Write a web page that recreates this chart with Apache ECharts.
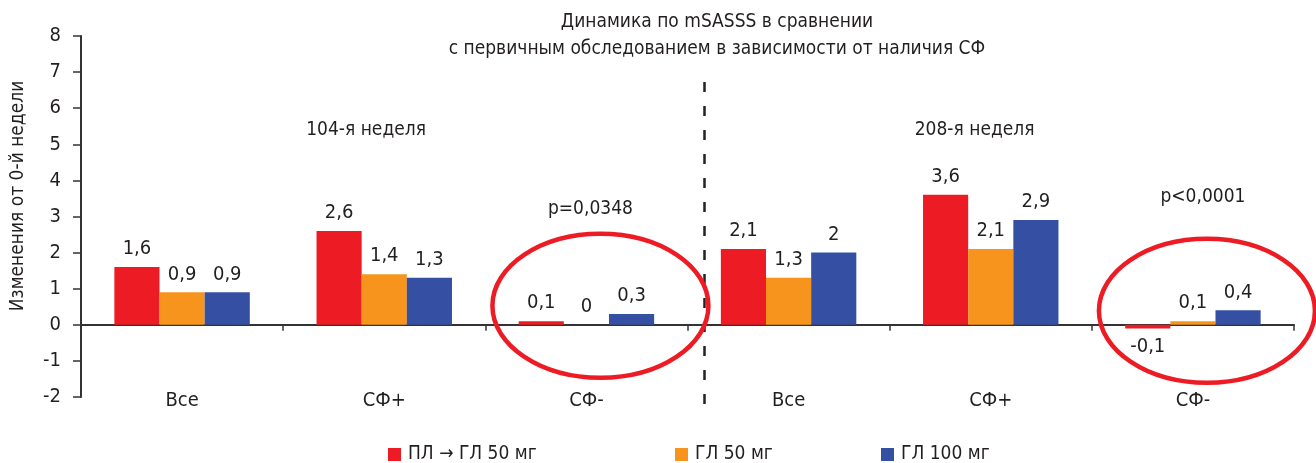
<!DOCTYPE html>
<html>
<head>
<meta charset="utf-8">
<script src="https://cdn.jsdelivr.net/npm/echarts@6/dist/echarts.min.js"></script>
<style>
  html, body { margin: 0; padding: 0; background: #fff; }
  #Chart { width: 1316px; height: 463px; }
</style>
</head>
<body>
<div id="Chart"></div>
<script>
const categories = ["Все", "СФ+", "СФ-", "Все", "СФ+", "СФ-"]
const seriesNames = ["ПЛ → ГЛ 50 мг", "ГЛ 50 мг", "ГЛ 100 мг"]
const plToGl50 = [1.6, 2.6, 0.1, 2.1, 3.6, -0.1]
const gl50 = [0.9, 1.4, 0, 1.3, 2.1, 0.1]
const gl100 = [0.9, 1.3, 0.3, 2, 2.9, 0.4]
const colors = ["#ED1C24", "#F7941D", "#3550A3"]

const font = "\"Liberation Sans Narrow\", \"DejaVu Sans Condensed\", Roboto, sans-serif"
const ink = "#231F20"

const chart = echarts.init(document.getElementById("Chart"), null, { renderer: "canvas" })

const comma = (p) => String(p.value).replace(".", ",")

const makeSeries = (name, data, color) => ({
  name,
  type: "bar",
  data,
  barGap: 0,
  barCategoryGap: "33%",
  itemStyle: { color },
  label: {
    show: true,
    position: "top",
    distance: 8,
    formatter: comma,
    color: ink,
    fontFamily: font,
    fontSize: 20
  }
})

const series = [
  makeSeries(seriesNames[0], plToGl50.map(v => v < 0
    ? { value: v, label: { position: "bottom" } }
    : v), colors[0]),
  makeSeries(seriesNames[1], gl50, colors[1]),
  makeSeries(seriesNames[2], gl100, colors[2])
]

// отдельная легенда на каждую серию, как в оригинале
const legendLeft = [383, 670, 876]
const legend = seriesNames.map((name, i) => ({
  data: [name],
  left: legendLeft[i],
  top: 440,
  icon: "rect",
  itemWidth: 13,
  itemHeight: 13,
  itemGap: 0,
  textStyle: { fontFamily: font, fontSize: 19, color: ink, padding: [0, 0, 0, 2] }
}))

chart.setOption({
  animation: false,
  backgroundColor: "#fff",
  title: {
    text: "Динамика по mSASSS в сравнении\nс первичным обследованием в зависимости от наличия СФ",
    left: 712,
    textAlign: "center",
    top: 4,
    textStyle: { fontFamily: font, fontSize: 19, fontWeight: "normal", color: ink, lineHeight: 27 }
  },
  legend,
  grid: { left: 81, right: 22, top: 36, bottom: 66, outerBoundsMode: "none" },
  xAxis: [
    {
      // линия оси на нуле
      type: "category",
      data: categories,
      axisLine: { onZero: true, lineStyle: { color: "#333", width: 2 } },
      axisTick: { show: true, length: 6, lineStyle: { color: "#333", width: 1.5 } },
      axisLabel: { show: false }
    },
    {
      // подписи категорий внизу
      type: "category",
      data: categories,
      position: "bottom",
      axisLine: { show: false, onZero: false },
      axisTick: { show: false },
      axisLabel: { margin: -6, fontFamily: font, fontSize: 20, color: ink }
    }
  ],
  yAxis: {
    type: "value",
    min: -2,
    max: 8,
    interval: 1,
    axisLine: { show: true, lineStyle: { color: "#333", width: 2 } },
    axisTick: { show: true, length: 8, lineStyle: { color: "#333", width: 1.5 } },
    axisLabel: { margin: 20, fontFamily: font, fontSize: 20, color: ink },
    splitLine: { show: false }
  },
  series
})

// аннотации: пунктир между неделями, эллипсы вокруг СФ-
const px = (i) => chart.convertToPixel({ xAxisIndex: 0 }, i)
const py = (v) => chart.convertToPixel({ yAxisIndex: 0 }, v)
const step = px(1) - px(0)
const splitX = (px(2) + px(3)) / 2 + 17
const ellipse = (i, dy) => ({
  type: "ellipse",
  shape: { cx: px(i) + 14, cy: py(0) - dy, rx: 108, ry: 72 },
  style: { fill: null, stroke: "#ED1C24", lineWidth: 4.5 },
  z: 10
})
const note = (text, x, y) => ({
  type: "text",
  x, y,
  style: { text, fontFamily: font, fontSize: 19, fill: ink, align: "center", verticalAlign: "middle" }
})

chart.setOption({
  graphic: [
    {
      type: "line",
      shape: { x1: splitX, y1: 82, x2: splitX, y2: 410 },
      style: { stroke: "#222", lineWidth: 2.5, lineDash: [10, 14] }
    },
    ellipse(2, 19),
    ellipse(5, 14),
    note("104-я неделя", px(1) - step * 0.09, 130),
    note("208-я неделя", px(4) - step * 0.08, 130),
    note("p=0,0348", px(2) + 4, 209),
    note("p<0,0001", px(5) + 10, 197),
    {
      type: "text",
      x: 18,
      y: 196,
      rotation: Math.PI / 2,
      style: { text: "Изменения от 0-й недели", fontFamily: font, fontSize: 19, fill: ink, align: "center", verticalAlign: "middle" }
    }
  ]
})
</script>
</body>
</html>
